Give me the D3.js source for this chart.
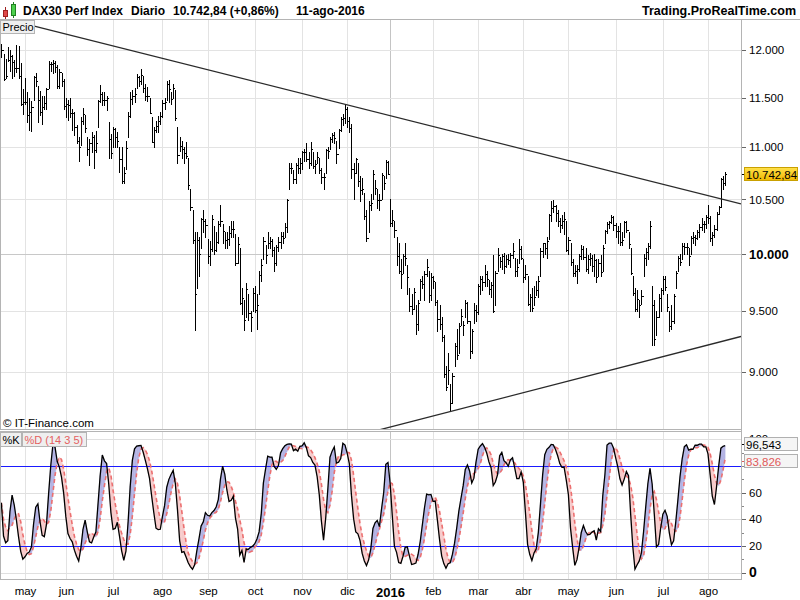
<!DOCTYPE html>
<html><head><meta charset="utf-8">
<script src="https://cdn.jsdelivr.net/npm/d3@7"></script>
<style>body{margin:0;background:#fff}svg{display:block;font-family:"Liberation Sans",Arial,sans-serif}</style>
</head><body><svg id="c" width="800" height="600"></svg>
<script>
// ---------- DATA (daily bars, 16-abr-2015 .. 11-ago-2016) ----------
const monthLabels = ["may","jun","jul","ago","sep","oct","nov","dic","2016","feb","mar","abr","may","jun","jul","ago"];
const monthStartIdx = [11,30,52,75,96,118,140,161,181,201,222,243,264,286,308,329];
const highs = [
12060,11960,11900,12030,12000,11950,11890,12050,12040,11860,11590,
11700,11560,11500,11470,11720,11760,11620,11570,11520,11520,11600,11880,11870,11890,11880,11840,11800,11760,11690,
11500,11480,11500,11380,11350,11220,11100,11300,11390,11320,11100,11080,11150,11120,11160,11480,11630,11560,11560,11520,11250,11130,
11200,11190,11150,11000,11000,10810,11060,11350,11560,11580,11600,11740,11720,11800,11720,11640,11610,11500,11300,11200,11260,11310,11350,
11480,11500,11670,11680,11560,11640,11580,11200,11100,11060,11000,11050,10900,10600,10400,10200,10200,10150,10330,10400,10320,
10130,10120,10350,10250,10200,10300,10450,10270,10200,10200,10250,10300,10300,10180,10150,10050,9700,9600,9740,9650,9500,9700,
9720,9650,9850,9950,10150,10080,10200,10150,10130,10060,10080,10150,10200,10200,10280,10500,10850,10850,10780,10850,10900,10900,
10960,10980,11040,10950,11050,10950,10880,10950,10900,10800,10750,10980,11000,11100,11140,11150,11060,11180,11300,11330,11430,
11400,11300,11230,10850,10900,10850,10720,10700,10560,10400,10480,10550,10780,10680,10600,10550,10750,10720,10880,10870,
10500,10400,10300,10150,10100,9950,10000,10100,9900,9700,9650,9700,9550,9600,9780,9800,9850,9950,9850,9830,
9800,9750,9600,9550,9450,9300,9050,9150,8900,8990,9230,9350,9400,9520,9420,9600,9580,9420,9350,9570,9550,
9730,9800,9800,9900,9850,9770,9750,9990,9850,10050,9970,10000,10010,9990,10000,10010,10100,9960,9950,10130,10070,
9950,9900,9800,9650,9700,9720,9760,9800,10050,10100,10100,10150,10360,10480,10490,10450,10400,10330,10350,10380,10300,
10150,10100,9950,9900,9900,10000,10080,10070,10050,9990,10010,9990,10000,9950,9950,9990,10080,10220,10290,10300,10350,10340,
10280,10250,10280,10200,10300,10300,10200,10050,9800,9700,9680,9600,9680,10000,10050,10100,10300,9720,9600,9500,9650,9700,
9800,9800,9650,9500,9550,9650,9850,9980,10000,10100,10100,10100,10050,10160,10200,10170,10220,10270,10330,10300,10350,
10450,10340,10200,10260,10380,10440,10700,10720,10760];
const lows = [
11930,11680,11700,11880,11780,11700,11720,11770,11700,11420,11330,
11430,11250,11170,11160,11480,11620,11250,11320,11230,11380,11380,11600,11780,11760,11770,11600,11600,11620,11380,
11300,11270,11300,11170,11120,11040,10870,11020,11230,11150,10920,10830,10950,10800,10950,11200,11450,11420,11420,11370,10900,10900,
11000,11000,11000,10760,10650,10650,10790,11100,11300,11430,11450,11600,11620,11640,11560,11480,11460,11340,11050,11000,11150,11150,11230,
11300,11380,11480,11450,11430,11500,11270,10850,10960,10900,10850,10900,10600,10400,10100,9338,9700,9800,10050,10200,10150,
9920,9900,10030,10000,10030,10100,10250,10100,10050,10050,10080,10150,10150,9900,9920,9560,9480,9340,9450,9430,9330,9500,
9490,9350,9650,9760,9950,9920,10050,10050,9980,9850,9900,10030,10050,10100,10150,10200,10600,10750,10650,10650,10750,10750,
10790,10870,10870,10800,10830,10800,10750,10850,10750,10650,10600,10750,10900,10980,11050,11040,10850,10990,11160,11220,11240,
11200,11150,10700,10500,10750,10630,10480,10550,10320,10120,10200,10400,10500,10550,10420,10400,10500,10600,10700,10740,
10250,10250,10150,9900,9830,9700,9830,9900,9650,9500,9480,9520,9310,9340,9600,9700,9600,9800,9580,9600,
9700,9550,9330,9350,9250,8960,8850,8900,8700,8750,9050,9100,9150,9380,9300,9450,9400,9110,9150,9400,9420,
9480,9650,9680,9720,9720,9650,9620,9490,9550,9850,9880,9870,9830,9880,9910,9880,9960,9800,9800,9920,9950,
9750,9780,9550,9500,9500,9550,9640,9620,9800,9970,10000,9960,10130,10300,10380,10300,10250,10200,10230,10180,10030,
10000,9900,9800,9800,9740,9850,9950,9950,9850,9830,9900,9850,9800,9750,9800,9800,9850,10100,10190,10230,10280,10220,
10150,10100,10080,10080,10150,10200,10050,9820,9640,9500,9500,9450,9560,9800,9900,9950,10050,9220,9215,9300,9450,9500,
9650,9680,9500,9330,9350,9400,9700,9850,9900,9950,10000,10000,9900,10000,10100,10080,10130,10150,10220,10200,10230,
10280,10120,10080,10150,10220,10360,10430,10600,10640];
const closes = [
11998,11689,11727,11896,11939,11867,11811,11811,11723,11432,11454,
11451,11327,11350,11407,11709,11673,11472,11351,11400,11447,11591,11853,11848,11864,11815,11625,11771,11673,11414,
11436,11419,11340,11340,11197,11064,11001,11265,11332,11196,10984,11044,11100,10978,11040,11460,11542,11471,11473,11492,11083,10945,
11180,11099,11058,10890,10676,10747,10996,11316,11484,11516,11539,11716,11673,11735,11604,11521,11513,11347,11056,11173,11212,11257,11309,
11443,11456,11636,11585,11490,11604,11293,10925,11014,10985,10940,10915,10633,10432,10124,9648,10128,9997,10315,10298,10259,
9980,10048,10318,10038,10108,10271,10303,10210,10123,10131,10188,10227,10229,9916,10093,9570,9612,9428,9688,9483,9450,9660,
9509,9553,9814,9902,10118,9993,10096,10119,10032,9915,10065,10104,10165,10147,10239,10491,10795,10801,10692,10832,10801,10850,
10951,10951,10887,10845,10988,10815,10833,10907,10783,10708,10713,10971,10960,11085,11119,11092,10934,11169,11284,11293,11382,
11261,11190,10789,10752,10886,10673,10592,10598,10340,10139,10450,10470,10738,10608,10497,10489,10727,10653,10860,10743,
10283,10310,10214,9979,9849,9825,9985,9960,9794,9545,9521,9664,9391,9574,9764,9737,9822,9880,9640,9798,
9757,9581,9434,9393,9286,8979,8879,9017,8752,8967,9206,9135,9377,9463,9388,9573,9416,9167,9331,9513,9495,
9717,9776,9751,9824,9778,9693,9723,9498,9831,9990,9933,9983,9892,9950,9948,9990,10022,9851,9887,10046,9966,
9794,9822,9564,9624,9530,9622,9682,9761,10026,10094,10051,10120,10350,10421,10435,10373,10294,10260,10299,10321,10039,
10123,9926,9829,9851,9870,9980,10045,9975,9862,9952,9960,9890,9943,9795,9916,9842,10057,10205,10272,10286,10333,10263,
10204,10208,10103,10121,10287,10217,10088,9834,9657,9520,9607,9550,9631,9962,10015,10071,10257,9557,9268,9448,9612,9680,
9776,9709,9532,9373,9418,9629,9833,9964,9930,10068,10066,10063,9981,10142,10156,10147,10198,10247,10274,10275,10337,
10330,10144,10170,10228,10367,10432,10693,10651,10743];
const priceTicks = [9000,9500,10000,10500,11000,11500,12000];
const stochTicks = [0,20,40,60];
const stochTopTick = 100;
const stochMinor = [10,30,50,70,80,90];
const stochLevels = [20,80];
const stochParams = [14,3,5];
const upperTrend = [[0,12350],[337,10494]];
const lowerTrend = [[209,8685],[337,9254]];
const lastPriceText = "10.742,84", lastPrice = 10742.84;
const lastK = 96.543, lastD = 83.826, lastKText = "96,543", lastDText = "83,826";

// ---------- LAYOUT ----------
const svg = d3.select("#c");
const AX = 741, P_TOP = 20, P_BOT = 429, S_TOP = 432, S_BOT = 579;
const n = closes.length;
const x = d3.scaleLinear().domain([0, n-1]).range([1.37, 1.37 + (n-1)*2.1478]);
const y = d3.scaleLog().domain([9000, 12000]).range([371.7, 50]);
const ys = d3.scaleLinear().domain([0, 100]).range([572.5, 439.2]);

const defs = svg.append("defs");
defs.append("clipPath").attr("id","cp").append("rect").attr("x",0).attr("y",P_TOP).attr("width",AX).attr("height",P_BOT-P_TOP);
defs.append("clipPath").attr("id","cs").append("rect").attr("x",0).attr("y",S_TOP).attr("width",AX).attr("height",S_BOT-S_TOP);
defs.append("clipPath").attr("id","c100").append("rect").attr("x",AX).attr("y",S_TOP).attr("width",60).attr("height",5);
const gr = defs.append("linearGradient").attr("id","gold").attr("x1",0).attr("y1",0).attr("x2",0).attr("y2",1);
gr.append("stop").attr("offset",0).attr("stop-color","#ffe14a");
gr.append("stop").attr("offset",1).attr("stop-color","#f2b800");

// grids
const grid = svg.append("g").attr("shape-rendering","crispEdges");
monthStartIdx.forEach((m,j)=>{
  const gx = Math.round(x(m)) + 0.5;
  const col = monthLabels[j]==="2016" ? "#c4c4c4" : "#e3e3e3";
  grid.append("line").attr("x1",gx).attr("x2",gx).attr("y1",P_TOP).attr("y2",P_BOT).attr("stroke",col);
  grid.append("line").attr("x1",gx).attr("x2",gx).attr("y1",S_TOP).attr("y2",S_BOT).attr("stroke",col);
});
priceTicks.forEach(t=>{
  const gy = Math.round(y(t)) + 0.5;
  grid.append("line").attr("x1",0).attr("x2",AX).attr("y1",gy).attr("y2",gy).attr("stroke", t===10000 ? "#c8c8c8" : "#e3e3e3");
});
[0,40,60,100].forEach(t=>{
  const gy = Math.round(ys(t)) + 0.5;
  grid.append("line").attr("x1",0).attr("x2",AX).attr("y1",gy).attr("y2",gy).attr("stroke","#e0e0e0");
});

// ---------- PRICE BARS ----------
const pg = svg.append("g").attr("clip-path","url(#cp)").attr("shape-rendering","crispEdges");
const idx = d3.range(n);
pg.selectAll("rect.hl").data(idx).join("rect").attr("class","hl")
  .attr("x", i=>Math.round(x(i))).attr("width",1)
  .attr("y", i=>Math.round(y(highs[i])))
  .attr("height", i=>Math.max(1, Math.round(y(lows[i])) - Math.round(y(highs[i])) + 1))
  .attr("fill","#000");
pg.selectAll("rect.cl").data(idx).join("rect").attr("class","cl")
  .attr("x", i=>Math.round(x(i))+1).attr("width",1).attr("height",1)
  .attr("y", i=>Math.round(y(closes[i]))).attr("fill","#000");
pg.selectAll("rect.op").data(idx.slice(1)).join("rect").attr("class","op")
  .attr("x", i=>Math.round(x(i))-1).attr("width",1).attr("height",1)
  .attr("y", i=>Math.round(y(closes[i-1]))).attr("fill","#000");

// trend lines
function trend(pts){
  const [a,b] = pts;
  const xa = x(a[0]), ya = y(a[1]), xb = x(b[0]), yb = y(b[1]);
  const s = (yb-ya)/(xb-xa);
  return [[0, ya + s*(0-xa)], [AX, ya + s*(AX-xa)]];
}
const tg = svg.append("g").attr("clip-path","url(#cp)");
[upperTrend, lowerTrend].forEach(t=>{
  const p = trend(t);
  tg.append("line").attr("x1",p[0][0]).attr("y1",p[0][1]).attr("x2",p[1][0]).attr("y2",p[1][1])
    .attr("stroke","#2a2a2a").attr("stroke-width",1.3);
});

// ---------- STOCHASTIC (14 3 5) computed from the bars ----------
const [per, kSm, dSm] = stochParams;
const rawK = closes.map((c,i)=>{
  const s = Math.max(0, i-per+1);
  const hh = d3.max(highs.slice(s,i+1)), ll = d3.min(lows.slice(s,i+1));
  return hh>ll ? 100*(c-ll)/(hh-ll) : 50;
});
const K = rawK.map((_,i)=>d3.mean(rawK.slice(Math.max(0,i-kSm+1), i+1)));
const D = K.map((_,i)=>d3.mean(K.slice(Math.max(0,i-dSm+1), i+1)));

const sg = svg.append("g").attr("clip-path","url(#cs)");
const polys = [];
for (let i=0;i<n-1;i++){
  const x0=x(i), x1=x(i+1);
  const d0=K[i]-D[i], d1=K[i+1]-D[i+1];
  if (d0*d1 >= 0){
    polys.push({up:(d0+d1)>=0, pts:[[x0,ys(K[i])],[x1,ys(K[i+1])],[x1,ys(D[i+1])],[x0,ys(D[i])]]});
  } else {
    const t = d0/(d0-d1), xc = x0+t*(x1-x0), vc = K[i]+t*(K[i+1]-K[i]);
    polys.push({up:d0>0, pts:[[x0,ys(K[i])],[xc,ys(vc)],[x0,ys(D[i])]]});
    polys.push({up:d1>0, pts:[[xc,ys(vc)],[x1,ys(K[i+1])],[x1,ys(D[i+1])]]});
  }
}
sg.selectAll("path.f").data(polys).join("path").attr("class","f")
  .attr("d", p=>"M"+p.pts.map(q=>q.join(",")).join("L")+"Z")
  .attr("fill", p=>p.up ? "#b3b3e4" : "#f7caca").attr("stroke", p=>p.up ? "#b3b3e4" : "#f7caca").attr("stroke-width",0.4);
stochLevels.forEach(v=>{
  const gy = Math.round(ys(v))+0.5;
  sg.append("line").attr("x1",0).attr("x2",AX).attr("y1",gy).attr("y2",gy).attr("stroke","#1a1aff").attr("stroke-width",1).attr("shape-rendering","crispEdges");
});
const ln = d3.line().x((d,i)=>x(i)).y(d=>ys(d));
sg.append("path").attr("d", ln(D)).attr("fill","none").attr("stroke","#ec6f6f").attr("stroke-width",1.6).attr("stroke-dasharray","4,3");
sg.append("path").attr("d", ln(K)).attr("fill","none").attr("stroke","#000").attr("stroke-width",1.3);

// ---------- FRAMES ----------
const fr = svg.append("g").attr("shape-rendering","crispEdges").attr("fill","none").attr("stroke","#b4b4b4");
fr.append("line").attr("x1",0).attr("x2",800).attr("y1",19.5).attr("y2",19.5);
fr.append("line").attr("x1",0.5).attr("x2",0.5).attr("y1",P_TOP).attr("y2",P_BOT);
fr.append("line").attr("x1",0).attr("x2",AX).attr("y1",P_BOT+0.5).attr("y2",P_BOT+0.5);
fr.append("line").attr("x1",0).attr("x2",AX).attr("y1",S_TOP-0.5).attr("y2",S_TOP-0.5);
fr.append("line").attr("x1",0.5).attr("x2",0.5).attr("y1",S_TOP).attr("y2",S_BOT);
fr.append("line").attr("x1",0).attr("x2",AX).attr("y1",S_BOT+0.5).attr("y2",S_BOT+0.5);
fr.append("line").attr("x1",AX+0.5).attr("x2",AX+0.5).attr("y1",P_TOP).attr("y2",S_BOT+1);

// ---------- AXES ----------
const fmtP = d=>d3.format(",")(d).replace(/,/g,".");
const pa = svg.append("g").attr("transform",`translate(${AX+1},0)`)
  .call(d3.axisRight(y).tickValues(priceTicks).tickSize(4).tickPadding(3).tickFormat(fmtP));
pa.select(".domain").remove();
pa.selectAll(".tick line").attr("stroke","#666").attr("shape-rendering","crispEdges");
pa.selectAll(".tick text").attr("fill","#000").attr("font-family","Liberation Sans, Arial, sans-serif")
  .attr("font-weight", d=>d===10000?"bold":"normal").style("font-size", d=>d===10000?"13px":"11.5px");

const sa = svg.append("g").attr("transform",`translate(${AX+1},0)`)
  .call(d3.axisRight(ys).tickValues(stochTicks).tickSize(4).tickPadding(3).tickFormat(d3.format("d")));
sa.select(".domain").remove();
sa.selectAll(".tick line").attr("stroke","#666").attr("shape-rendering","crispEdges");
sa.selectAll(".tick text").attr("fill","#000").attr("font-family","Liberation Sans, Arial, sans-serif")
  .attr("font-weight", d=>d===0?"bold":"normal").style("font-size", d=>d===0?"14px":"11.5px");
const sm = svg.append("g").attr("transform",`translate(${AX+1},0)`)
  .call(d3.axisRight(ys).tickValues(stochMinor).tickSize(2).tickFormat(""));
sm.select(".domain").remove();
sm.selectAll(".tick line").attr("stroke","#888").attr("shape-rendering","crispEdges");
// top "100" label, mostly hidden behind the %K value box (only its top shows)
svg.append("text").attr("clip-path","url(#c100)").attr("x",AX+8).attr("y",ys(stochTopTick)+4)
  .style("font-size","11.5px").attr("fill","#000").text(String(stochTopTick));

// value boxes
function valBox(yc, text, fill, stroke, col, tick){
  const g = svg.append("g");
  g.append("line").attr("x1",AX+1).attr("x2",AX+4).attr("y1",Math.round(yc)+0.5).attr("y2",Math.round(yc)+0.5).attr("stroke",tick).attr("shape-rendering","crispEdges");
  g.append("rect").attr("x",744.5).attr("y",Math.round(yc)-6.5).attr("width",53).attr("height",13).attr("fill",fill).attr("stroke",stroke).attr("shape-rendering","crispEdges");
  g.append("text").attr("x",746).attr("y",Math.round(yc)+4.5).style("font-size","11.5px").attr("fill",col).text(text);
}
valBox(y(lastPrice), lastPriceText, "url(#gold)", "#c9a000", "#000", "#000");
valBox(ys(lastK), lastKText, "#f5f5f5", "#b0b0b0", "#000", "#000");
valBox(ys(lastD), lastDText, "#f5f5f5", "#b0b0b0", "#e05a5a", "#e05a5a");

// x labels
svg.append("g").selectAll("text").data(monthStartIdx).join("text")
  .attr("x", m=>Math.round(x(m))+0.5).attr("y",(m,j)=>monthLabels[j]==="2016"?597:595)
  .attr("text-anchor","middle")
  .attr("font-weight",(m,j)=>monthLabels[j]==="2016"?"bold":"normal")
  .style("font-size",(m,j)=>monthLabels[j]==="2016"?"13px":"11.5px")
  .attr("fill","#000").text((m,j)=>monthLabels[j]);

// ---------- HEADER & LABELS ----------
const hd = svg.append("g").attr("shape-rendering","crispEdges");
hd.append("line").attr("x1",5.5).attr("x2",5.5).attr("y1",7).attr("y2",19).attr("stroke","#a02020");
hd.append("rect").attr("x",3.5).attr("y",10.5).attr("width",4).attr("height",6).attr("fill","#e04848").attr("stroke","#a02020");
hd.append("line").attr("x1",13.5).attr("x2",13.5).attr("y1",2).attr("y2",18).attr("stroke","#208020");
hd.append("rect").attr("x",11.5).attr("y",4.5).attr("width",4).attr("height",11).attr("fill","#4cd04c").attr("stroke","#208020");
const ht = svg.append("g").attr("font-weight","bold").style("font-size","12px").attr("fill","#000");
ht.append("text").attr("x",23).attr("y",15).text("DAX30 Perf Index");
ht.append("text").attr("x",131).attr("y",15).text("Diario");
ht.append("text").attr("x",173).attr("y",15).text("10.742,84 (+0,86%)");
ht.append("text").attr("x",296).attr("y",15).text("11-ago-2016");
ht.append("text").attr("x",796).attr("y",15).attr("text-anchor","end").style("font-size","12.5px").text("Trading.ProRealTime.com");

function tagBox(x0,y0,w,h,text,col){
  svg.append("rect").attr("x",x0+0.5).attr("y",y0+0.5).attr("width",w).attr("height",h).attr("fill","#efefef").attr("stroke","#b4b4b4").attr("shape-rendering","crispEdges");
  svg.append("text").attr("x",x0+2.5).attr("y",y0+h-2).style("font-size","11px").attr("fill",col).text(text);
}
tagBox(0,20,34,13,"Precio","#000");
tagBox(0,432,21,14,"%K","#000");
tagBox(22,432,64,14,"%D (14 3 5)","#e46060");
svg.append("text").attr("x",3).attr("y",427).style("font-size","11.5px").attr("fill","#000").text("\u00A9 IT-Finance.com");
</script></body></html>
